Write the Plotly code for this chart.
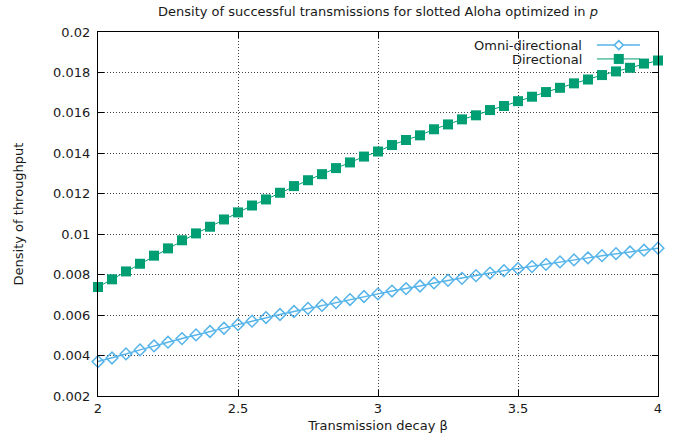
import plotly.graph_objects as go

beta = [round(2 + 0.05 * i, 2) for i in range(41)]

omni = [0.00370, 0.00388, 0.00408, 0.00428, 0.00448, 0.00466, 0.00484, 0.00502, 0.00519, 0.00535,
        0.00553, 0.00570, 0.00588, 0.00603, 0.00618, 0.00633, 0.00648, 0.00662, 0.00677, 0.00692,
        0.00705, 0.00719, 0.00731, 0.00744, 0.00759, 0.00772, 0.00782, 0.00795, 0.00808, 0.00820,
        0.00830, 0.00840, 0.00851, 0.00863, 0.00873, 0.00883, 0.00894, 0.00904, 0.00912, 0.00921,
        0.00931]

directional = [0.00739, 0.00777, 0.00816, 0.00854, 0.00894, 0.00930, 0.00970, 0.01004, 0.01037, 0.01073,
               0.01108, 0.01142, 0.01172, 0.01205, 0.01238, 0.01267, 0.01297, 0.01327, 0.01355, 0.01384,
               0.01409, 0.01441, 0.01466, 0.01489, 0.01519, 0.01543, 0.01568, 0.01588, 0.01614, 0.01634,
               0.01658, 0.01680, 0.01703, 0.01724, 0.01746, 0.01765, 0.01787, 0.01805, 0.01823, 0.01844,
               0.01859]

x_ticks = [2, 2.5, 3, 3.5, 4]
x_ticktext = ["2", "2.5", "3", "3.5", "4"]
y_ticks = [0.002, 0.004, 0.006, 0.008, 0.01, 0.012, 0.014, 0.016, 0.018, 0.02]
y_ticktext = ["0.002", "0.004", "0.006", "0.008", "0.01", "0.012", "0.014", "0.016", "0.018", "0.02"]

series_names = ["Omni-directional", "Directional"]

OMNI_C = "#56b4e9"
DIR_C = "#009e73"
TXT_C = "#1a1a1a"
FONT = "DejaVu Sans, Liberation Sans, sans-serif"

fig = go.Figure()
fig.add_trace(go.Scatter(
    x=beta, y=omni, mode="lines+markers", name=series_names[0],
    line=dict(color=OMNI_C, width=1.5), cliponaxis=False,
    marker=dict(symbol="diamond-open", size=9, color=OMNI_C, line=dict(width=1.5, color=OMNI_C)),
    showlegend=False,
))
fig.add_trace(go.Scatter(
    x=beta, y=directional, mode="lines+markers", name=series_names[1],
    line=dict(color=DIR_C, width=1), cliponaxis=False,
    marker=dict(symbol="square", size=10, color=DIR_C, line=dict(width=0)),
    showlegend=False,
))

# gnuplot-style key: text right-aligned, line sample to its right
leg_rows = [(0.964, OMNI_C, "omni"), (0.926, DIR_C, "dir")]
shapes = []
annotations = []
for (yp, col, kind), name in zip(leg_rows, series_names):
    annotations.append(dict(
        x=0.868, y=yp, xref="paper", yref="paper", xanchor="right", yanchor="middle",
        text=name, showarrow=False, height=12, valign="middle",
        font=dict(family=FONT, size=13, color=TXT_C),
    ))
    shapes.append(dict(type="line", xref="paper", yref="paper", x0=0.891, x1=0.968, y0=yp, y1=yp,
                       line=dict(color=col, width=1.5 if kind == "omni" else 1)))
    if kind == "omni":
        shapes.append(dict(type="path", xref="paper", yref="paper", xsizemode="pixel", ysizemode="pixel",
                           xanchor=0.930, yanchor=yp, path="M -4.5 0 L 0 4.5 L 4.5 0 L 0 -4.5 Z",
                           line=dict(color=col, width=1.5), fillcolor="white"))
    else:
        shapes.append(dict(type="rect", xref="paper", yref="paper", xsizemode="pixel", ysizemode="pixel",
                           xanchor=0.930, yanchor=yp, x0=-5, x1=5, y0=-5, y1=5,
                           line=dict(width=0), fillcolor=col))

fig.update_layout(
    width=684, height=447,
    margin=dict(l=98, r=26, t=32, b=51),
    paper_bgcolor="white", plot_bgcolor="white",
    font=dict(family=FONT, size=13, color=TXT_C),
    title=dict(text="Density of successful transmissions for slotted Aloha optimized in <i>p</i>",
               x=0.5, xref="paper", xanchor="center", y=1 - 11 / 447, yanchor="middle",
               font=dict(family=FONT, size=13, color=TXT_C)),
    shapes=shapes,
    annotations=annotations,
    showlegend=False,
)

axis_common = dict(
    showline=True, linecolor="black", linewidth=1.3, mirror="ticks",
    ticks="inside", ticklen=6, tickcolor="black", tickwidth=1,
    showgrid=True, gridcolor="#444444", gridwidth=1, griddash="1px,2px",
    zeroline=False, tickfont=dict(family=FONT, size=13, color=TXT_C),
)

fig.update_xaxes(range=[2, 4], tickvals=x_ticks, ticktext=x_ticktext,
                 title=dict(text="Transmission decay β", standoff=6,
                            font=dict(family=FONT, size=13, color=TXT_C)),
                 **axis_common)
fig.update_yaxes(range=[0.002, 0.02], tickvals=y_ticks, ticktext=y_ticktext,
                 ticklabelstandoff=4,
                 title=dict(text="Density of throughput", standoff=26,
                            font=dict(family=FONT, size=13, color=TXT_C)),
                 **axis_common)

fig.write_html("out.html", config={"displayModeBar": False},
               post_script="document.body.style.margin='0px';")
